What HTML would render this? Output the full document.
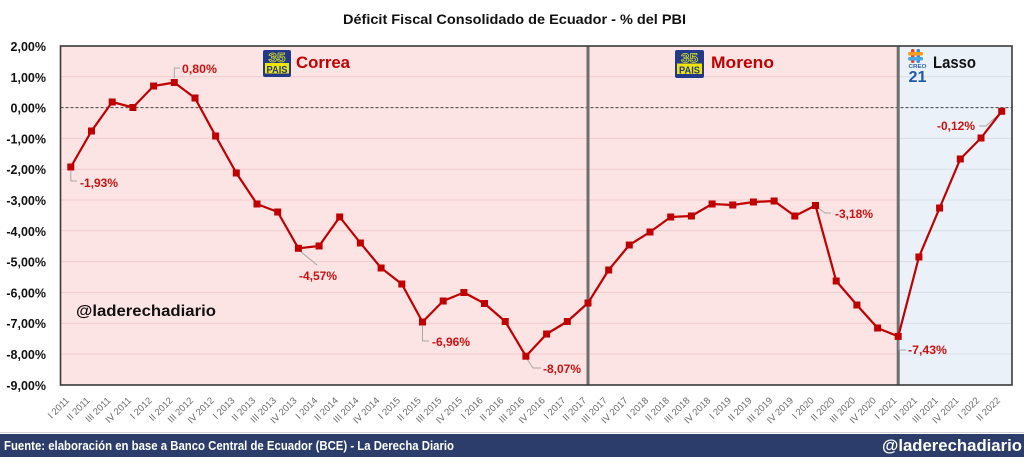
<!DOCTYPE html>
<html><head><meta charset="utf-8"><style>
html,body{margin:0;padding:0;background:#fff;}
svg{display:block;font-family:"Liberation Sans",Arial,sans-serif;}
</style></head><body>
<svg width="1024" height="457" viewBox="0 0 1024 457" xmlns="http://www.w3.org/2000/svg">
<rect x="0" y="0" width="1024" height="457" fill="#fff"/>
<text x="343" y="24" font-size="14" font-weight="bold" fill="#111" textLength="343" lengthAdjust="spacingAndGlyphs">Déficit Fiscal Consolidado de Ecuador - % del PBI</text>

<rect x="60.5" y="46" width="837.7" height="339" fill="#fde4e4"/>
<rect x="898.2" y="46" width="113.8" height="339" fill="#ebf1f9"/>
<g stroke="#efcccc" stroke-width="1">
<line x1="60.5" x2="898" y1="76.8" y2="76.8"/>
<line x1="60.5" x2="898" y1="138.4" y2="138.4"/>
<line x1="60.5" x2="898" y1="169.2" y2="169.2"/>
<line x1="60.5" x2="898" y1="200" y2="200"/>
<line x1="60.5" x2="898" y1="230.8" y2="230.8"/>
<line x1="60.5" x2="898" y1="261.6" y2="261.6"/>
<line x1="60.5" x2="898" y1="292.4" y2="292.4"/>
<line x1="60.5" x2="898" y1="323.2" y2="323.2"/>
<line x1="60.5" x2="898" y1="354" y2="354"/>
</g>
<g stroke="#d9dee7" stroke-width="1">
<line x1="898" x2="1012" y1="76.8" y2="76.8"/>
<line x1="898" x2="1012" y1="138.4" y2="138.4"/>
<line x1="898" x2="1012" y1="169.2" y2="169.2"/>
<line x1="898" x2="1012" y1="200" y2="200"/>
<line x1="898" x2="1012" y1="230.8" y2="230.8"/>
<line x1="898" x2="1012" y1="261.6" y2="261.6"/>
<line x1="898" x2="1012" y1="292.4" y2="292.4"/>
<line x1="898" x2="1012" y1="323.2" y2="323.2"/>
<line x1="898" x2="1012" y1="354" y2="354"/>
</g>
<line x1="60.5" x2="1012" y1="107.6" y2="107.6" stroke="#404040" stroke-width="1" stroke-dasharray="3,2"/>

<line x1="588" x2="588" y1="46" y2="385" stroke="#6e6e6e" stroke-width="3"/>
<line x1="898.2" x2="898.2" y1="46" y2="385" stroke="#6e6e6e" stroke-width="3"/>

<rect x="60.5" y="46" width="951.5" height="339" fill="none" stroke="#3a3a3a" stroke-width="1.6"/>

<g font-size="12.5" font-weight="bold" fill="#111" text-anchor="end">
<text x="46" y="51">2,00%</text>
<text x="46" y="81.8">1,00%</text>
<text x="46" y="112.6">0,00%</text>
<text x="46" y="143.4">-1,00%</text>
<text x="46" y="174.2">-2,00%</text>
<text x="46" y="205">-3,00%</text>
<text x="46" y="235.8">-4,00%</text>
<text x="46" y="266.6">-5,00%</text>
<text x="46" y="297.4">-6,00%</text>
<text x="46" y="328.2">-7,00%</text>
<text x="46" y="359">-8,00%</text>
<text x="46" y="389.8">-9,00%</text>
</g>

<g font-size="9.5" fill="#6a6a6a" text-anchor="end">
<text transform="translate(69.8,401) rotate(-45)">I 2011</text>
<text transform="translate(90.5,401) rotate(-45)">II 2011</text>
<text transform="translate(111.2,401) rotate(-45)">III 2011</text>
<text transform="translate(131.9,401) rotate(-45)">IV 2011</text>
<text transform="translate(152.6,401) rotate(-45)">I 2012</text>
<text transform="translate(173.3,401) rotate(-45)">II 2012</text>
<text transform="translate(193.9,401) rotate(-45)">III 2012</text>
<text transform="translate(214.6,401) rotate(-45)">IV 2012</text>
<text transform="translate(235.3,401) rotate(-45)">I 2013</text>
<text transform="translate(256.0,401) rotate(-45)">II 2013</text>
<text transform="translate(276.7,401) rotate(-45)">III 2013</text>
<text transform="translate(297.4,401) rotate(-45)">IV 2013</text>
<text transform="translate(318.1,401) rotate(-45)">I 2014</text>
<text transform="translate(338.7,401) rotate(-45)">II 2014</text>
<text transform="translate(359.4,401) rotate(-45)">III 2014</text>
<text transform="translate(380.1,401) rotate(-45)">IV 2014</text>
<text transform="translate(400.8,401) rotate(-45)">I 2015</text>
<text transform="translate(421.5,401) rotate(-45)">II 2015</text>
<text transform="translate(442.2,401) rotate(-45)">III 2015</text>
<text transform="translate(462.9,401) rotate(-45)">IV 2015</text>
<text transform="translate(483.5,401) rotate(-45)">I 2016</text>
<text transform="translate(504.2,401) rotate(-45)">II 2016</text>
<text transform="translate(524.9,401) rotate(-45)">III 2016</text>
<text transform="translate(545.6,401) rotate(-45)">IV 2016</text>
<text transform="translate(566.3,401) rotate(-45)">I 2017</text>
<text transform="translate(587.0,401) rotate(-45)">II 2017</text>
<text transform="translate(607.7,401) rotate(-45)">III 2017</text>
<text transform="translate(628.3,401) rotate(-45)">IV 2017</text>
<text transform="translate(649.0,401) rotate(-45)">I 2018</text>
<text transform="translate(669.7,401) rotate(-45)">II 2018</text>
<text transform="translate(690.4,401) rotate(-45)">III 2018</text>
<text transform="translate(711.1,401) rotate(-45)">IV 2018</text>
<text transform="translate(731.8,401) rotate(-45)">I 2019</text>
<text transform="translate(752.4,401) rotate(-45)">II 2019</text>
<text transform="translate(773.1,401) rotate(-45)">III 2019</text>
<text transform="translate(793.8,401) rotate(-45)">IV 2019</text>
<text transform="translate(814.5,401) rotate(-45)">I 2020</text>
<text transform="translate(835.2,401) rotate(-45)">II 2020</text>
<text transform="translate(855.9,401) rotate(-45)">III 2020</text>
<text transform="translate(876.6,401) rotate(-45)">IV 2020</text>
<text transform="translate(897.2,401) rotate(-45)">I 2021</text>
<text transform="translate(917.9,401) rotate(-45)">II 2021</text>
<text transform="translate(938.6,401) rotate(-45)">III 2021</text>
<text transform="translate(959.3,401) rotate(-45)">IV 2021</text>
<text transform="translate(980.0,401) rotate(-45)">I 2022</text>
<text transform="translate(1000.7,401) rotate(-45)">II 2022</text>
</g>

<g stroke="#a6a6a6" stroke-width="1" fill="none">
<polyline points="70.8,171 70.8,181 77,181"/>
<polyline points="174.3,78 174.3,68 180,68"/>
<polyline points="300,251 317,265"/>
<polyline points="422.5,326 422.5,341 429,341"/>
<polyline points="527,359 533,368 541,368"/>
<polyline points="817,207 825,213 831,213"/>
<polyline points="899,340 899,350 906,350"/>
<polyline points="979,126 986,126 999,114"/>
</g>

<polyline fill="none" stroke="#c00000" stroke-width="2.2" stroke-linejoin="round" points="70.84,167 91.53,131 112.21,102 132.9,107.5 153.58,86 174.27,82.5 194.95,98 215.64,136 236.32,173 257.01,204 277.69,212 298.38,248.3 319.06,246 339.75,217 360.43,243 381.12,268 401.8,284 422.49,322 443.17,301 463.86,292.5 484.54,303.5 505.23,321.5 525.91,356.2 546.6,334 567.28,321.5 587.97,303 608.65,270 629.34,245 650.02,232 670.71,217 691.39,216 712.08,204 732.76,205 753.45,202 774.13,201 794.82,216 815.5,205.5 836.19,281 856.87,305 877.56,328 898.24,336.4 918.93,257 939.61,208 960.3,159 980.98,138 1001.67,111.3"/>
<g fill="#c00000">
<rect x="67.3" y="163.5" width="7" height="7"/>
<rect x="88" y="127.5" width="7" height="7"/>
<rect x="108.7" y="98.5" width="7" height="7"/>
<rect x="129.4" y="104" width="7" height="7"/>
<rect x="150.1" y="82.5" width="7" height="7"/>
<rect x="170.8" y="79" width="7" height="7"/>
<rect x="191.5" y="94.5" width="7" height="7"/>
<rect x="212.1" y="132.5" width="7" height="7"/>
<rect x="232.8" y="169.5" width="7" height="7"/>
<rect x="253.5" y="200.5" width="7" height="7"/>
<rect x="274.2" y="208.5" width="7" height="7"/>
<rect x="294.9" y="244.8" width="7" height="7"/>
<rect x="315.6" y="242.5" width="7" height="7"/>
<rect x="336.2" y="213.5" width="7" height="7"/>
<rect x="356.9" y="239.5" width="7" height="7"/>
<rect x="377.6" y="264.5" width="7" height="7"/>
<rect x="398.3" y="280.5" width="7" height="7"/>
<rect x="419" y="318.5" width="7" height="7"/>
<rect x="439.7" y="297.5" width="7" height="7"/>
<rect x="460.4" y="289" width="7" height="7"/>
<rect x="481" y="300" width="7" height="7"/>
<rect x="501.7" y="318" width="7" height="7"/>
<rect x="522.4" y="352.7" width="7" height="7"/>
<rect x="543.1" y="330.5" width="7" height="7"/>
<rect x="563.8" y="318" width="7" height="7"/>
<rect x="584.5" y="299.5" width="7" height="7"/>
<rect x="605.2" y="266.5" width="7" height="7"/>
<rect x="625.8" y="241.5" width="7" height="7"/>
<rect x="646.5" y="228.5" width="7" height="7"/>
<rect x="667.2" y="213.5" width="7" height="7"/>
<rect x="687.9" y="212.5" width="7" height="7"/>
<rect x="708.6" y="200.5" width="7" height="7"/>
<rect x="729.3" y="201.5" width="7" height="7"/>
<rect x="749.9" y="198.5" width="7" height="7"/>
<rect x="770.6" y="197.5" width="7" height="7"/>
<rect x="791.3" y="212.5" width="7" height="7"/>
<rect x="812" y="202" width="7" height="7"/>
<rect x="832.7" y="277.5" width="7" height="7"/>
<rect x="853.4" y="301.5" width="7" height="7"/>
<rect x="874.1" y="324.5" width="7" height="7"/>
<rect x="894.7" y="332.9" width="7" height="7"/>
<rect x="915.4" y="253.5" width="7" height="7"/>
<rect x="936.1" y="204.5" width="7" height="7"/>
<rect x="956.8" y="155.5" width="7" height="7"/>
<rect x="977.5" y="134.5" width="7" height="7"/>
<rect x="998.2" y="107.8" width="7" height="7"/>
</g>

<g font-size="12" font-weight="bold" fill="#cc1111">
<text x="80" y="187" textLength="38" lengthAdjust="spacingAndGlyphs">-1,93%</text>
<text x="182" y="73" textLength="35" lengthAdjust="spacingAndGlyphs">0,80%</text>
<text x="299" y="280" textLength="38" lengthAdjust="spacingAndGlyphs">-4,57%</text>
<text x="432" y="346" textLength="38" lengthAdjust="spacingAndGlyphs">-6,96%</text>
<text x="543" y="373" textLength="38" lengthAdjust="spacingAndGlyphs">-8,07%</text>
<text x="835" y="218" textLength="38" lengthAdjust="spacingAndGlyphs">-3,18%</text>
<text x="908" y="354" textLength="39" lengthAdjust="spacingAndGlyphs">-7,43%</text>
<text x="937" y="130" textLength="38" lengthAdjust="spacingAndGlyphs">-0,12%</text>
</g>

<text x="76" y="316" font-size="15.5" font-weight="bold" fill="#111" textLength="140" lengthAdjust="spacingAndGlyphs">@laderechadiario</text>

<g>
<rect x="263" y="50" width="28" height="27" rx="2" fill="#22398a"/>
<rect x="265" y="63" width="24" height="10.5" fill="#efe40a"/>
<text x="277" y="62" font-size="13" font-weight="bold" fill="#22398a" stroke="#d8e020" stroke-width="0.7" text-anchor="middle" textLength="17" lengthAdjust="spacingAndGlyphs">35</text>
<text x="277" y="73" font-size="10.5" font-weight="bold" fill="#22398a" text-anchor="middle" textLength="21" lengthAdjust="spacingAndGlyphs">PAIS</text>
</g>
<text x="296" y="68" font-size="17" font-weight="bold" fill="#c00000" textLength="54" lengthAdjust="spacingAndGlyphs">Correa</text>

<g>
<rect x="675" y="50" width="29" height="28" rx="2" fill="#22398a"/>
<rect x="677" y="63.5" width="25" height="10.5" fill="#efe40a"/>
<text x="689.5" y="62.5" font-size="13" font-weight="bold" fill="#22398a" stroke="#d8e020" stroke-width="0.7" text-anchor="middle" textLength="17" lengthAdjust="spacingAndGlyphs">35</text>
<text x="689.5" y="73.5" font-size="10.5" font-weight="bold" fill="#22398a" text-anchor="middle" textLength="21" lengthAdjust="spacingAndGlyphs">PAIS</text>
</g>
<text x="711" y="68" font-size="17" font-weight="bold" fill="#c00000" textLength="63" lengthAdjust="spacingAndGlyphs">Moreno</text>

<g>
<rect x="911" y="49" width="3.5" height="14" rx="1.5" fill="#e8412c"/>
<rect x="916.5" y="49" width="3.5" height="14" rx="1.5" fill="#2f8fd6"/>
<rect x="908" y="52" width="15" height="3.5" rx="1.5" fill="#f39c1f"/>
<rect x="908" y="57" width="15" height="3.5" rx="1.5" fill="#4aa8e0"/>
<text x="917.5" y="68" font-size="5.5" font-weight="bold" fill="#2a64b0" text-anchor="middle" textLength="18" lengthAdjust="spacingAndGlyphs">CREO</text>
<text x="917.5" y="82" font-size="16" font-weight="bold" fill="#1f5aa6" text-anchor="middle" textLength="18" lengthAdjust="spacingAndGlyphs">21</text>
</g>
<text x="933" y="68" font-size="16.5" font-weight="bold" fill="#111" textLength="43" lengthAdjust="spacingAndGlyphs">Lasso</text>

<line x1="0" x2="1024" y1="432.5" y2="432.5" stroke="#d0d0d0" stroke-width="1"/>
<rect x="0" y="434" width="1024" height="23" fill="#2c3d6b"/>
<text x="4" y="450" font-size="13" font-weight="bold" fill="#fff" textLength="450" lengthAdjust="spacingAndGlyphs">Fuente: elaboración en base a Banco Central de Ecuador (BCE) - La Derecha Diario</text>
<text x="882" y="451" font-size="16.5" font-weight="bold" fill="#fff" textLength="140" lengthAdjust="spacingAndGlyphs">@laderechadiario</text>
</svg>
</body></html>
